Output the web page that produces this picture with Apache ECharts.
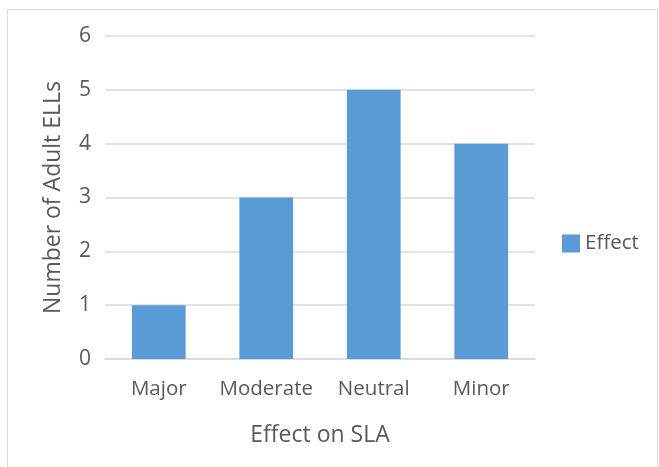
<!DOCTYPE html>
<html>
<head>
<meta charset="utf-8">
<script src="https://cdn.jsdelivr.net/npm/echarts@6/dist/echarts.min.js"></script>
<style>html,body{margin:0;padding:0;background:#fff;}#c{width:659px;height:467px;}</style>
</head>
<body>
<div id="c"></div>
<script>
const categories = ['Major', 'Moderate', 'Neutral', 'Minor'];
const effectValues = [1, 3, 5, 4];
const seriesName = 'Effect';
const xTitle = 'Effect on SLA';
const yTitle = 'Number of Adult ELLs';

const chart = echarts.init(document.getElementById('c'), null, {renderer: 'canvas'});
const font = '"Open Sans", "Liberation Sans", sans-serif';
chart.setOption({
  animation: false,
  backgroundColor: '#fff',
  textStyle: {fontFamily: font, color: '#595959'},
  graphic: [{
    type: 'rect', silent: true,
    shape: {x: 7.5, y: 9.5, width: 650, height: 470},
    style: {fill: 'none', stroke: '#D9D9D9', lineWidth: 1}
  }],
  grid: {left: 105, right: 124, top: 36, bottom: 108},
  legend: {
    orient: 'vertical', left: 562, top: 233, padding: 0,
    itemWidth: 18, itemHeight: 18, itemGap: 8,
    icon: 'rect',
    data: [seriesName],
    textStyle: {fontFamily: font, fontSize: 20.5, color: '#595959', padding: [0, 0, 0, 0]}
  },
  xAxis: {
    type: 'category', data: categories,
    axisLine: {show: true, lineStyle: {color: '#D9D9D9', width: 1.5}},
    axisTick: {show: false},
    axisLabel: {fontFamily: font, fontSize: 20.5, color: '#595959', margin: 20, interval: 0, hideOverlap: false},
    name: xTitle, nameLocation: 'middle', nameGap: 65,
    nameTextStyle: {fontFamily: font, fontSize: 23, color: '#595959'}
  },
  yAxis: {
    type: 'value', min: 0, max: 6, interval: 1,
    axisLine: {show: false}, axisTick: {show: false},
    splitLine: {lineStyle: {color: '#D9D9D9', width: 1.5}},
    axisLabel: {fontFamily: font, fontSize: 21, color: '#595959', margin: 14},
    name: yTitle, nameLocation: 'middle', nameGap: 40,
    nameTextStyle: {fontFamily: font, fontSize: 23, color: '#595959'}
  },
  series: [{
    name: seriesName, type: 'bar', data: effectValues,
    barCategoryGap: '50%',
    itemStyle: {color: '#5B9BD5'}
  }]
});
</script>
</body>
</html>
